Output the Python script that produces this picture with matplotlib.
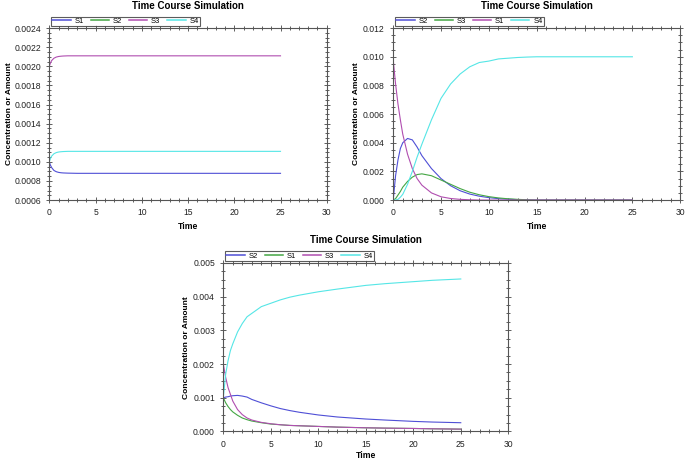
import matplotlib
matplotlib.use("Agg")
from matplotlib import pyplot as plt
from matplotlib.ticker import MultipleLocator, AutoMinorLocator

plt.rcParams['font.family'] = ['Liberation Sans', 'DejaVu Sans']

# line colours, in legend order
colors = ['#4f4fd6', '#44a644', '#b04eb0', '#55e6e6']

# ---- panel 1 (top left) ----
t1 = [0, 0.1, 0.25, 0.5, 0.75, 1, 1.25, 1.5, 2, 2.5, 3, 5, 10, 15, 20, 25]
p1_names = ['S1', 'S2', 'S3', 'S4']
p1_S1 = [0.00100, 0.00097, 0.00094, 0.00091, 0.000897, 0.00089, 0.000886, 0.000884,
         0.000882, 0.000881, 0.00088, 0.00088, 0.00088, 0.00088, 0.00088, 0.00088]
p1_S2 = [0.00010, 0.00010, 0.00010, 0.00010, 0.00010, 0.00010, 0.00010, 0.00010,
         0.00010, 0.00010, 0.00010, 0.00010, 0.00010, 0.00010, 0.00010, 0.00010]
p1_S3 = [0.00200, 0.00203, 0.00206, 0.002085, 0.002097, 0.002103, 0.002106, 0.002108,
         0.00211, 0.00211, 0.00211, 0.00211, 0.00211, 0.00211, 0.00211, 0.00211]
p1_S4 = [0.00100, 0.00103, 0.00106, 0.001085, 0.001097, 0.001103, 0.001106, 0.001108,
         0.00111, 0.00111, 0.00111, 0.00111, 0.00111, 0.00111, 0.00111, 0.00111]

# ---- panel 2 (top right) ----
t2 = [0, 0.25, 0.5, 0.75, 1, 1.5, 2, 2.5, 3, 4, 5, 6, 7, 8, 9, 10, 11, 12, 13, 14, 15, 17, 20, 25]
p2_names = ['S2', 'S3', 'S1', 'S4']
p2_S2 = [0.0, 0.0017, 0.0028, 0.0036, 0.0040, 0.0043, 0.0042, 0.0037, 0.0031, 0.0022,
         0.0015, 0.0010, 0.00065, 0.00042, 0.00027, 0.00017, 0.0001, 0.00006, 0.00003,
         0.00001, 0.0, 0.0, 0.0, 0.0]
p2_S3 = [0.0, 0.0001, 0.00035, 0.0006, 0.0009, 0.0013, 0.0016, 0.00178, 0.00183, 0.0017,
         0.0014, 0.0011, 0.0008, 0.00055, 0.00037, 0.00024, 0.00015, 0.00009, 0.00005,
         0.00002, 0.0, 0.0, 0.0, 0.0]
p2_S1 = [0.0098, 0.0081, 0.0067, 0.0056, 0.0046, 0.0032, 0.0022, 0.0015, 0.00104, 0.0005,
         0.00023, 0.00011, 0.00005, 0.00002, 0.0, 0.0, 0.0, 0.0, 0.0,
         0.0, 0.0, 0.0, 0.0, 0.0]
p2_S4 = [0.0, 0.0, 0.00005, 0.0002, 0.0004, 0.0011, 0.0020, 0.0030, 0.0039, 0.0056,
         0.0071, 0.0081, 0.0088, 0.0093, 0.0096, 0.0097, 0.00985, 0.0099, 0.00995,
         0.00998, 0.0100, 0.0100, 0.0100, 0.0100]

# ---- panel 3 (bottom) ----
t3 = [0, 0.25, 0.5, 0.75, 1, 1.5, 2, 2.5, 3, 4, 5, 6, 7, 8, 10, 12, 15, 17, 20, 22, 25]
p3_names = ['S2', 'S1', 'S3', 'S4']
p3_S2 = [0.00100, 0.00102, 0.00103, 0.00105, 0.00106, 0.00107, 0.00105, 0.00102, 0.00095,
         0.00085, 0.00076, 0.00068, 0.00062, 0.00057, 0.00049, 0.00043, 0.00037, 0.00034,
         0.00030, 0.00028, 0.00026]
p3_S1 = [0.00100, 0.00085, 0.00074, 0.00065, 0.00058, 0.00048, 0.00040, 0.00035, 0.00031,
         0.00026, 0.00022, 0.00020, 0.00018, 0.00017, 0.00015, 0.00013, 0.00011, 0.00010,
         0.00009, 0.00008, 0.00007]
p3_S3 = [0.00200, 0.00160, 0.00130, 0.00110, 0.00090, 0.00065, 0.00050, 0.00040, 0.00034,
         0.00027, 0.00023, 0.00020, 0.00018, 0.00017, 0.00015, 0.00013, 0.00011, 0.00010,
         0.00009, 0.00008, 0.00007]
p3_S4 = [0.00100, 0.00170, 0.00210, 0.00240, 0.00260, 0.00295, 0.00320, 0.00340, 0.00350,
         0.00370, 0.00380, 0.00390, 0.00398, 0.00404, 0.00414, 0.00422, 0.00433, 0.00438,
         0.00444, 0.00448, 0.00452]


def draw_panel(ax, t, series, names, ymin, ymax, ystep, yfmt, xpad=3):
    for vals, name, c in zip(series, names, colors):
        ax.plot(t, vals, color=c, lw=0.8, label=name)
    ax.set_xlim(0, 30)
    ax.set_ylim(ymin, ymax)
    ax.xaxis.set_major_locator(MultipleLocator(5))
    ax.xaxis.set_minor_locator(AutoMinorLocator(5))
    ax.yaxis.set_major_locator(MultipleLocator(ystep))
    ax.yaxis.set_minor_locator(AutoMinorLocator(4))
    ax.set_yticklabels([yfmt % v for v in ax.get_yticks()])
    ax.set_ylim(ymin, ymax)
    ax.tick_params(axis='both', which='both', direction='inout', top=True, right=True,
                   labelsize=6.2, colors='#444444', labelcolor='#222222', width=0.6)
    ax.tick_params(which='major', length=5)
    ax.tick_params(which='minor', length=3)
    for s in ax.spines.values():
        s.set_color('#555555')
        s.set_linewidth(0.8)
    ax.set_title("Time Course Simulation", fontsize=7, fontweight='bold', pad=14)
    ax.set_xlabel("Time", fontsize=6.2, fontweight='bold', labelpad=xpad)
    ax.set_ylabel("Concentration or Amount", fontsize=6, fontweight='bold', labelpad=2)
    leg = ax.legend(ncol=4, loc='lower left', bbox_to_anchor=(0, 1.0), fontsize=5.5,
                    frameon=True, fancybox=False, handlelength=2.4, handletextpad=0.5,
                    columnspacing=0.9, borderpad=0.15, borderaxespad=0.25)
    for h in leg.get_lines():
        h.set_linewidth(1.1)
    leg.get_frame().set_edgecolor('#333333')
    leg.get_frame().set_linewidth(0.8)


fig = plt.figure(figsize=(6.85, 4.61), dpi=100)
ax1 = fig.add_axes([0.072, 0.566, 0.405, 0.373])
ax2 = fig.add_axes([0.574, 0.566, 0.419, 0.373])
ax3 = fig.add_axes([0.326, 0.064, 0.416, 0.366])

draw_panel(ax1, t1, [p1_S1, p1_S2, p1_S3, p1_S4], p1_names, 0.0006, 0.0024, 0.0002, '%.4f')
draw_panel(ax2, t2, [p2_S2, p2_S3, p2_S1, p2_S4], p2_names, 0.0, 0.012, 0.002, '%.3f')
draw_panel(ax3, t3, [p3_S2, p3_S1, p3_S3, p3_S4], p3_names, 0.0, 0.005, 0.001, '%.3f', xpad=1.5)
ax1.yaxis.set_label_coords(-0.13, 0.5)

fig.savefig("out.png", dpi=100)
